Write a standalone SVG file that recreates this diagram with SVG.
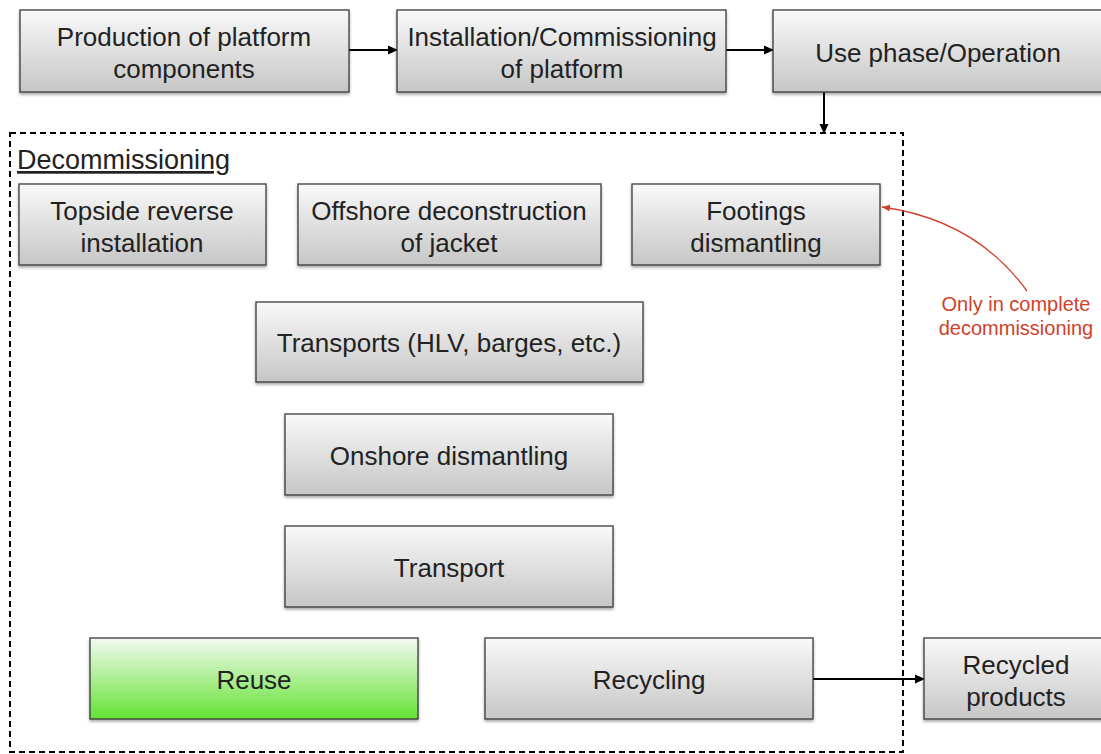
<svg xmlns="http://www.w3.org/2000/svg" width="1101" height="754" viewBox="0 0 1101 754">
<defs>
<linearGradient id="gray" x1="0" y1="0" x2="0" y2="1">
<stop offset="0" stop-color="#f9f9f9"/>
<stop offset="1" stop-color="#c6c6c6"/>
</linearGradient>
<linearGradient id="green" x1="0" y1="0" x2="0" y2="1">
<stop offset="0" stop-color="#f4faf2"/>
<stop offset="1" stop-color="#64e233"/>
</linearGradient>
<filter id="sh" x="-5%" y="-10%" width="110%" height="130%">
<feDropShadow dx="0" dy="2" stdDeviation="1.5" flood-color="#000" flood-opacity="0.35"/>
</filter>
<marker id="ah" markerWidth="10" markerHeight="10" refX="9" refY="5" orient="auto" markerUnits="userSpaceOnUse">
<path d="M0,0.5 L10,5 L0,9.5 z" fill="#000"/>
</marker>
<marker id="ahr" markerWidth="8" markerHeight="8" refX="8" refY="4" orient="auto" markerUnits="userSpaceOnUse">
<path d="M0,0.5 L8,4 L0,7.5 z" fill="#d0402a"/>
</marker>
</defs>
<style>
.box{fill:url(#gray);stroke:#3a3a3a;stroke-width:1.3;filter:url(#sh)}
.green{fill:url(#green)}
.t{font-family:"Liberation Sans",Arial,sans-serif;font-size:26px;fill:#222;text-anchor:middle}
.r{font-family:"Liberation Sans",Arial,sans-serif;font-size:20px;fill:#d0402a;text-anchor:middle}
.conn{stroke:#000;stroke-width:2;fill:none}
</style>
<rect x="10" y="133" width="893" height="619" fill="none" stroke="#000" stroke-width="2" stroke-dasharray="6,4"/>
<text x="17" y="169" font-family="&quot;Liberation Sans&quot;,Arial,sans-serif" font-size="27" fill="#222" text-decoration="underline">Decommissioning</text>
<g id="connectors">
<line class="conn" x1="349" y1="50" x2="397" y2="50" marker-end="url(#ah)"/>
<line class="conn" x1="726" y1="50" x2="773" y2="50" marker-end="url(#ah)"/>
<line class="conn" x1="824" y1="92" x2="824" y2="133" marker-end="url(#ah)"/>
<line class="conn" x1="813" y1="679" x2="924" y2="679" marker-end="url(#ah)"/>
<path d="M1027,291 C990,240 940,215 882,207" fill="none" stroke="#d0402a" stroke-width="1.3" marker-end="url(#ahr)"/>
</g>
<g id="production"><rect class="box" x="20" y="10" width="329" height="82"/><text class="t" x="184" y="46">Production of platform</text><text class="t" x="184" y="78">components</text></g>
<g id="installation"><rect class="box" x="397" y="10" width="329" height="82"/><text class="t" x="562" y="46">Installation/Commissioning</text><text class="t" x="562" y="78">of platform</text></g>
<g id="use"><rect class="box" x="773" y="10" width="340" height="82"/><text class="t" x="938" y="62">Use phase/Operation</text></g>
<g id="topside"><rect class="box" x="19" y="184" width="247" height="81"/><text class="t" x="142" y="220">Topside reverse</text><text class="t" x="142" y="252">installation</text></g>
<g id="offshore"><rect class="box" x="298" y="184" width="303" height="81"/><text class="t" x="449" y="220">Offshore deconstruction</text><text class="t" x="449" y="252">of jacket</text></g>
<g id="footings"><rect class="box" x="632" y="184" width="248" height="81"/><text class="t" x="756" y="220">Footings</text><text class="t" x="756" y="252">dismantling</text></g>
<g id="transports"><rect class="box" x="256" y="302" width="387" height="80"/><text class="t" x="449" y="352">Transports (HLV, barges, etc.)</text></g>
<g id="onshore"><rect class="box" x="285" y="414" width="328" height="81"/><text class="t" x="449" y="465">Onshore dismantling</text></g>
<g id="transport"><rect class="box" x="285" y="526" width="328" height="81"/><text class="t" x="449" y="577">Transport</text></g>
<g id="reuse"><rect class="box green" x="90" y="638" width="328" height="81"/><text class="t" x="254" y="689">Reuse</text></g>
<g id="recycling"><rect class="box" x="485" y="638" width="328" height="81"/><text class="t" x="649" y="689">Recycling</text></g>
<g id="recycled"><rect class="box" x="924" y="638" width="190" height="81"/><text class="t" x="1016" y="674">Recycled</text><text class="t" x="1016" y="706">products</text></g>
<g id="note"><text class="r" x="1016" y="311">Only in complete</text><text class="r" x="1016" y="335">decommissioning</text></g>
</svg>
